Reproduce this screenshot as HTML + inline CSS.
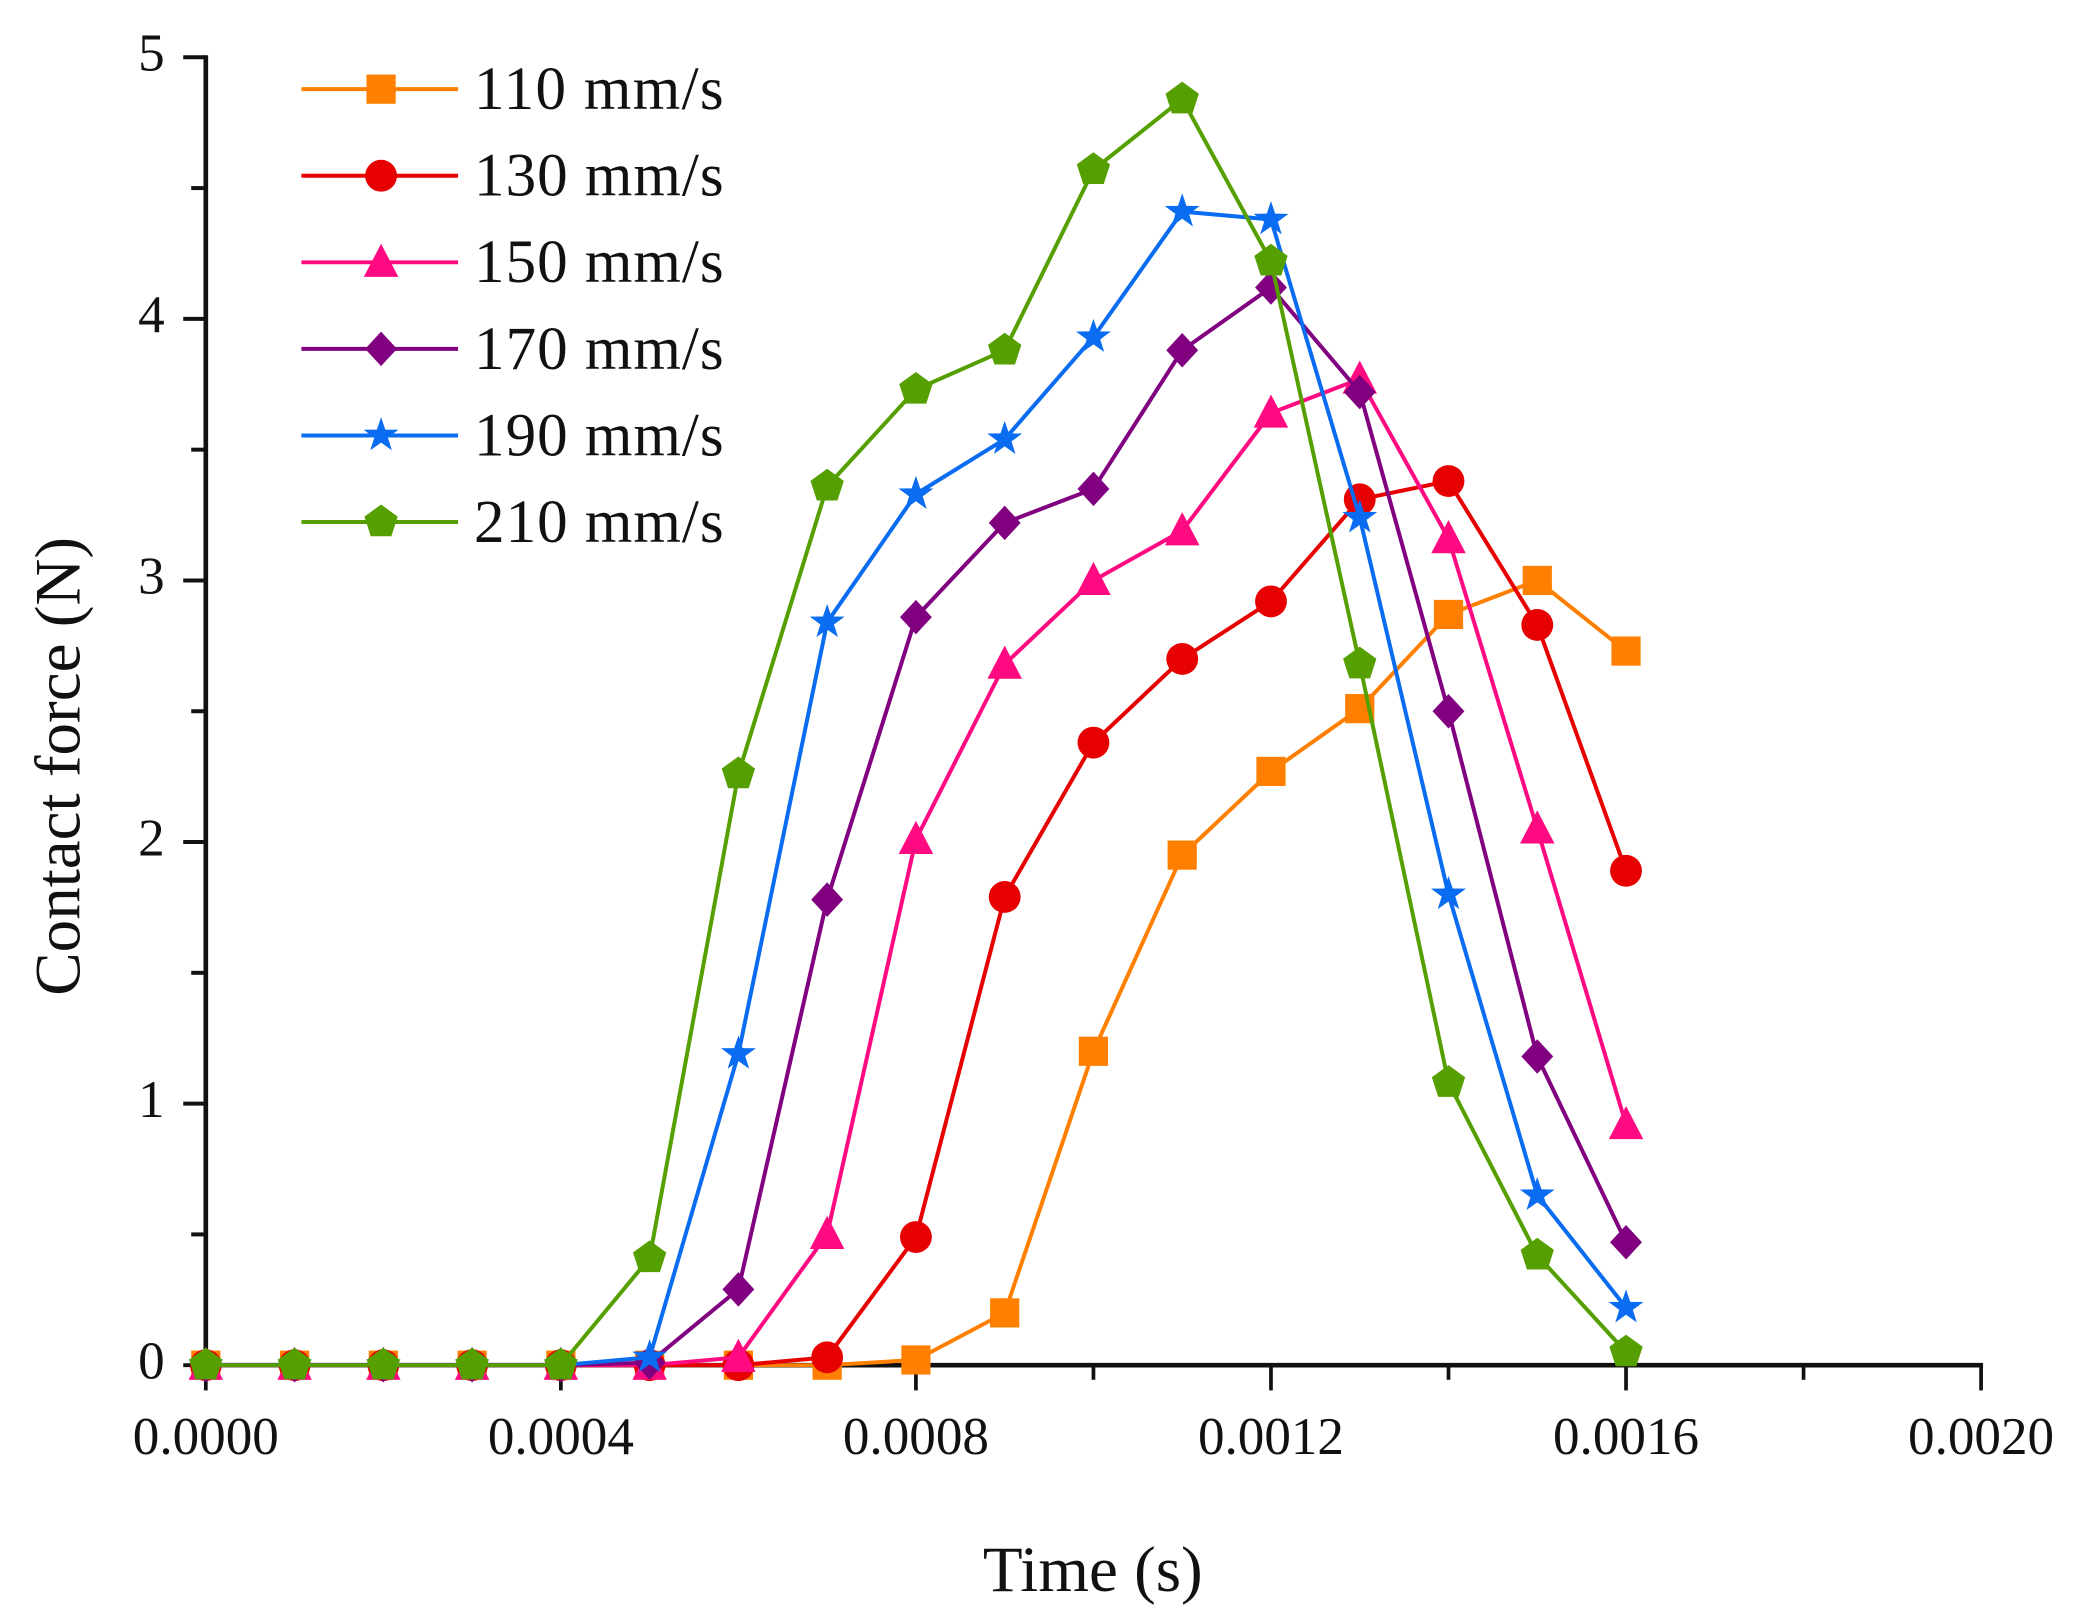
<!DOCTYPE html>
<html><head><meta charset="utf-8"><style>
html,body{margin:0;padding:0;background:#fff;}
svg{display:block;}
text{font-family:"Liberation Serif",serif;fill:#111;}
</style></head><body>
<svg id="chart" width="2082" height="1619" viewBox="0 0 1568 1219" xmlns="http://www.w3.org/2000/svg">
<g id="axes"></g>
<g id="series"></g>
<g id="legend"></g>
<text x="0" y="0" font-size="49" text-anchor="middle" transform="translate(60,577) rotate(-90)">Contact force (N)</text>
<text x="823" y="1198" font-size="49" text-anchor="middle">Time (s)</text>
</svg>
<script>
const times = [0,0.0001,0.0002,0.0003,0.0004,0.0005,0.0006,0.0007,0.0008,0.0009,0.0010,0.0011,0.0012,0.0013,0.0014,0.0015,0.0016];
const seriesNames = ["110 mm/s","130 mm/s","150 mm/s","170 mm/s","190 mm/s","210 mm/s"];
const v110 = [0,0,0,0,0,0,0,0,0.02,0.2,1.2,1.95,2.27,2.51,2.87,3.0,2.73];
const v130 = [0,0,0,0,0,0,0,0.03,0.49,1.79,2.38,2.70,2.92,3.31,3.38,2.83,1.89];
const v150 = [0,0,0,0,0,0,0.03,0.5,2.01,2.68,3.0,3.19,3.64,3.77,3.16,2.05,0.92];
const v170 = [0,0,0,0,0,0.01,0.29,1.78,2.86,3.22,3.35,3.88,4.12,3.72,2.5,1.18,0.47];
const v190 = [0,0,0,0,0,0.03,1.19,2.84,3.33,3.54,3.93,4.41,4.38,3.24,1.8,0.65,0.22];
const v210 = [0,0,0,0,0,0.41,2.26,3.36,3.73,3.88,4.57,4.84,4.22,2.68,1.08,0.42,0.05];
const xTickValues = [0,0.0004,0.0008,0.0012,0.0016,0.0020];
const xTickLabels = ["0.0000","0.0004","0.0008","0.0012","0.0016","0.0020"];
const yTickValues = [0,1,2,3,4,5];
const yTickLabels = ["0","1","2","3","4","5"];

const NS="http://www.w3.org/2000/svg";
const X0=155,X1=1492,Y0=1028,Y1=43;
const xs=t=>X0+(t/0.002)*(X1-X0);
const ys=v=>Y0-(v/5)*(Y0-Y1);
function mk(tag,attrs,parent){const e=document.createElementNS(NS,tag);for(const k in attrs)e.setAttribute(k,attrs[k]);parent.appendChild(e);return e;}
const axes=document.getElementById('axes');
let ax=mk('line',{x1:X0,y1:Y0,x2:X1+1.5,y2:Y0,stroke:'#111','stroke-width':3.5},axes);


ax=mk('line',{x1:X0,y1:Y0,x2:X0,y2:Y1-1.5,stroke:'#111','stroke-width':3.5},axes);


for(let i=0;i<xTickValues.length;i++){
  const x=xs(xTickValues[i]);
  const t=mk('line',{x1:x,y1:Y0,x2:x,y2:Y0+19,stroke:'#111','stroke-width':2.8},axes);
  
  
  const l=mk('text',{x:x,y:1095,'font-size':40,'text-anchor':'middle'},axes);l.textContent=xTickLabels[i];
  
  
  if(i<xTickValues.length-1){const xm=xs(xTickValues[i]+0.0002);
    const m=mk('line',{x1:xm,y1:Y0,x2:xm,y2:Y0+11,stroke:'#111','stroke-width':2.8},axes);
    
    }
}
for(let i=0;i<yTickValues.length;i++){
  const y=ys(yTickValues[i]);
  const t=mk('line',{x1:X0-17,y1:y,x2:X0,y2:y,stroke:'#111','stroke-width':3},axes);
  
  
  const l=mk('text',{x:124,y:y+10,'font-size':40,'text-anchor':'end'},axes);l.textContent=yTickLabels[i];
  
  
  if(i<yTickValues.length-1){const ym=ys(yTickValues[i]+0.5);
    const m=mk('line',{x1:X0-11,y1:ym,x2:X0,y2:ym,stroke:'#111','stroke-width':3},axes);
    
    }
}
const allVals=[v110,v130,v150,v170,v190,v210];
const colors=["#ff8000","#e60000","#ff0a80","#800080","#0a6cf0","#55a000"];
const shapes=["square","circle","triangle","diamond","star","pentagon"];
function marker(shape,cx,cy,color,parent){
  const r=12;let e;
  if(shape==='square')e=mk('rect',{x:cx-r+1,y:cy-r+1,width:2*r-2,height:2*r-2,fill:color},parent);
  else if(shape==='circle')e=mk('circle',{cx:cx,cy:cy,r:r,fill:color},parent);
  else{let pts=[];
    if(shape==='triangle')pts=[[0,-r-2],[r+1,r-1],[-r-1,r-1]];
    else if(shape==='diamond')pts=[[0,-r-1],[r,0],[0,r+1],[-r,0]];
    else if(shape==='pentagon'){for(let k=0;k<5;k++){const a=-Math.PI/2+k*2*Math.PI/5;pts.push([r*1.1*Math.cos(a),r*1.1*Math.sin(a)]);}}
    else {for(let k=0;k<10;k++){const a=-Math.PI/2+k*Math.PI/5;const rr=k%2?r*0.45:r*1.15;pts.push([rr*Math.cos(a),rr*Math.sin(a)]);}}
    e=mk('polygon',{points:pts.map(p=>(cx+p[0])+','+(cy+p[1])).join(' '),fill:color},parent);}
  return e;
}
const sg=document.getElementById('series');
for(let s=0;s<allVals.length;s++){
  const g=mk('g',{},sg);
  
  
  const pl=mk('polyline',{points:allVals[s].map((v,i)=>xs(times[i])+','+ys(v)).join(' '),fill:'none',stroke:colors[s],'stroke-width':3},g);
  
  
  allVals[s].forEach((v,i)=>{const m=marker(shapes[s],xs(times[i]),ys(v),colors[s],g);
    
    });
}
const lg=document.getElementById('legend');
for(let s=0;s<seriesNames.length;s++){
  const y=67+s*65.2;
  const g=mk('g',{},lg);
  
  
  mk('line',{x1:227,y1:y,x2:345,y2:y,stroke:colors[s],'stroke-width':3},g);
  marker(shapes[s],287,y,colors[s],g);
  const t=mk('text',{x:357,y:y+15,'font-size':46,'textLength':188},g);t.textContent=seriesNames[s];
  
  
}
</script>
</body></html>
